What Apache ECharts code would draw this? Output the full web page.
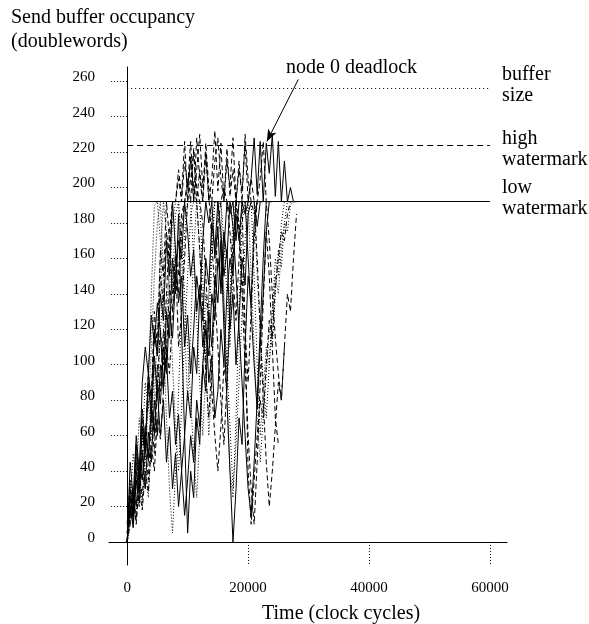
<!DOCTYPE html>
<html><head><meta charset="utf-8">
<script src="https://cdn.jsdelivr.net/npm/echarts@6/dist/echarts.min.js"></script>
<style>html,body{margin:0;padding:0;background:#fff}#c{width:589px;height:624px}</style>
</head><body><div id="c"></div>
<script>
// sample times (clock cycles)
const times = [0,500,1000,1500,2000,2500,3000,3500,4000,4500,5000,5500,6000,6500,7000,7500,8000,8500,9000,9500,
  10000,10500,11000,11500,12000,12500,13000,13500,14000,14500,15000,15500,16000,16500,17000,17500,18000,18500,19000,19500,
  20000,20500,21000,21500,22000,22500,23000,23500,24000,24500,25000,25500,26000,26500,27000,27500,28000];

// buffer occupancy traces (doublewords) - solid
const node0 = [0,25,12,40,28,65,50,95,80,118,105,140,125,170,150,192,165,135,150,110,128,95,120,150,135,170,192,180,192,160,178,140,165,192,185,192,170,192,192,185,192,205,228,196,226,192,225,208,230,195,226,192,215,192,200,192,192];
const nodeS1 = [0,30,15,55,35,90,110,95,128,112,135,118,90,105,70,85,55,72,40,60,85,70,110,95,140,125,160,145,180,165,192,175,150,165,120,140,100,125,160,145,185,192,192,178,192,192];
const nodeS2 = [5,20,8,35,22,50,30,62,45,80,60,100,85,130,115,160,140,185,120,60,5,40,25,70,55,100,85,130,110,150,135,170,120,80,40,0,30,70,55,110,150,135,180,192,192];
const nodeS3 = [0,45,25,60,40,75,55,90,70,105,85,60,80,45,65,30,50,20,40,15,35,60,45,80,65,100,120,105,140,125,160,145,175,160,192,178,150,120,90,60,30,15,45,80,120,160,192,192];
const nodeS4 = [0,15,30,20,45,35,60,48,75,62,90,78,110,95,130,115,150,170,160,192,175,150,165,130,145,110,125,90,105,70,85,120,100,140,160,150,185,170,192,192,160,130,100,75,110,140,175,192,192];
// dashed
const nodeD1 = [0,20,10,45,30,65,50,90,75,120,105,150,135,175,160,192,192,205,192,215,200,226,192,210,230,200,220,192,205,232,198,225,192,215,200,228,192,175,140,100,60,30,10,45,90,135,175,150,110,70,55];
const nodeD2 = [10,35,20,50,35,70,55,95,80,130,110,165,150,192,170,140,160,110,130,160,192,205,220,192,210,192,225,200,192,215,228,205,192,222,195,210,192,180,150,120,90,130,170,192,205,226,192,170,140,115,95,80,110,140,130,160,185];
const nodeD3 = [0,15,30,10,40,25,55,35,70,50,90,120,100,140,175,192,192,210,195,226,192,218,200,192,165,130,95,70,100,140,180,192,200,192,175,150,125,160,192,120,40,10,35,60,80,70,100,125,115,145,160,175,170,185,192,192];
const nodeD4 = [0,10,25,12,30,18,40,28,55,40,70,58,85,110,95,130,150,140,175,192,200,215,192,228,205,192,218,195,170,140,110,80,55,90,130,170,192,210,198,225,192,205,192,160,120,80,45,20,40,65,90,80,110];
const nodeD5 = [5,25,15,35,20,50,65,45,80,60,100,85,120,105,145,130,165,150,185,192,205,192,222,200,192,180,150,120,85,60,40,65,100,85,130,160,192,215,192,230,205,192,185,192];
// dotted
const nodeP1 = [0,10,25,15,40,20,50,90,140,190,192,170,120,70,30,5,40,85,130,175,192,192,160,125,90,60,95,140,185,192,192,170,130,95,140,185,192,192,192,192,192,150,110,70,45,70,95,120,110,140,165,155,180,192,192];
const nodeP2 = [0,30,15,45,30,60,40,25,55,80,120,160,192,175,140,100,65,40,75,115,150,185,192,192,165,130,100,135,170,192,192,192,170,140,110,150,192,192,192,192,192,192,150,100,60,85,110,100,130,150,140,165,180,175,190,192,192];
const nodeP3 = [0,20,50,35,70,55,90,75,110,150,180,192,150,110,140,180,192,192,160,120,80,120,165,192,192,150,100,60,90,140,190,192,140,80,40,25,70,130,180,192,192,192];
const nodeP4 = [0,35,18,50,30,65,45,80,60,100,80,120,140,125,160,145,185,192,170,140,110,80,50,25,60,100,140,120,160,192,192,170,135,100,65,30,55,90,130,170,192,192,192,150,120,90,70,100,130,160,150,180,192];

const yTicks = [0,20,40,60,80,100,120,140,160,180,200,220,240,260];
const xTicks = [0,20000,40000,60000];
const bufferSize = 256, highWatermark = 224, lowWatermark = 192;
const refStart = 0, refEnd = 60000;
const arrowFrom = [28300, 261], arrowTo = [23100, 226];

const FONT = '"Liberation Serif", "Times New Roman", serif';
const DASH = [5,3], DOT = [1,2];
const traces = [
  {v: node0, t: 'solid'}, {v: nodeS1, t: 'solid'}, {v: nodeS2, t: 'solid'}, {v: nodeS3, t: 'solid'}, {v: nodeS4, t: 'solid'},
  {v: nodeD1, t: DASH}, {v: nodeD2, t: DASH}, {v: nodeD3, t: DASH}, {v: nodeD4, t: DASH}, {v: nodeD5, t: DASH},
  {v: nodeP1, t: DOT}, {v: nodeP2, t: DOT}, {v: nodeP3, t: DOT}, {v: nodeP4, t: DOT}
];

const series = traces.map(tr => ({
  type: 'line', data: tr.v.map((v, i) => [times[i], v]),
  symbol: 'none', silent: true,
  lineStyle: {color: '#000', width: 1, type: tr.t}
}));

function refLine(val, type, label, dy) {
  return [{coord: [refStart, val], lineStyle: {type: type},
           label: {show: true, position: 'end', formatter: label, distance: 12, color: '#000', offset: [0, dy],
                   fontFamily: FONT, fontSize: 20, lineHeight: 21, align: 'left'}},
          {coord: [refEnd, val]}];
}

series.push({
  type: 'line', data: [], silent: true,
  markLine: {
    silent: true, symbol: 'none', animation: false,
    lineStyle: {color: '#000', width: 1},
    data: [
      refLine(bufferSize, [1,3], 'buffer\nsize', -3),
      refLine(highWatermark, [6,4], 'high\nwatermark', 4),
      refLine(lowWatermark, 'solid', 'low\nwatermark', -3),
      [{coord: arrowFrom, symbol: 'none', lineStyle: {type: 'solid'}, label: {show: false}},
       {coord: arrowTo, symbol: 'arrow', symbolSize: [7, 12]}]
    ]
  }
});

const chart = echarts.init(document.getElementById('c'), null, {renderer: 'canvas'});
chart.setOption({
  animation: false,
  backgroundColor: '#fff',
  grid: {left: 109, right: 82, top: 67, bottom: 59, containLabel: false},
  xAxis: {
    type: 'value', min: -3000, max: 62800,
    axisLine: {onZero: true, lineStyle: {color: '#000', width: 1}},
    axisTick: {show: true, customValues: xTicks, length: 23, lineStyle: {color: '#000', type: [1,2]}},
    axisLabel: {customValues: xTicks, margin: 16, color: '#000', fontFamily: FONT, fontSize: 15,
                formatter: v => String(v)},
    splitLine: {show: false}
  },
  yAxis: {
    type: 'value', min: -13, max: 268,
    axisLine: {show: true, onZero: true, lineStyle: {color: '#000', width: 1}},
    axisTick: {show: true, customValues: yTicks, length: 17, lineStyle: {color: '#000', type: [1,2]}},
    axisLabel: {customValues: yTicks, margin: 14, color: '#000', fontFamily: FONT, fontSize: 15,
                verticalAlign: 'bottom', lineHeight: 8, formatter: v => String(v)},
    splitLine: {show: false}
  },
  graphic: [
    {type: 'text', left: 11, top: 6, style: {text: 'Send buffer occupancy\n(doublewords)', font: '20px ' + FONT, lineHeight: 24, fill: '#000'}},
    {type: 'text', left: 286, top: 58, style: {text: 'node 0 deadlock', font: '20px ' + FONT, fill: '#000'}},
    {type: 'text', left: 262, top: 604, style: {text: 'Time (clock cycles)', font: '20px ' + FONT, fill: '#000'}}
  ],
  series: series
});
</script>
</body></html>
